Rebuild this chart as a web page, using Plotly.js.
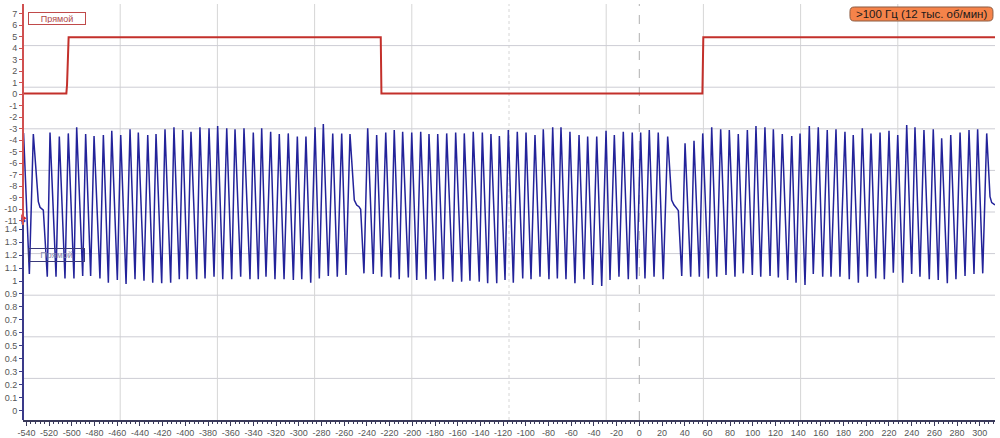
<!DOCTYPE html>
<html>
<head>
<meta charset="utf-8">
<script src="https://cdn.plot.ly/plotly-3.0.1.min.js"></script>
<style>html,body{margin:0;padding:0;background:#fff;}#chart{width:1000px;height:438px;}</style>
</head>
<body>
<div id="chart"></div>
<script>
// ---- Red channel (upper scale) ----
const redT = [-543, -504.8, -504.2, -502.8, -227.8, -227.2, 55.6, 56.4, 313.4];
const redV = [0.05, 0.05, 0.8, 4.93, 4.93, 0.05, 0.05, 4.93, 4.93];

// ---- Blue channel (lower scale), peaks / troughs ----
const blueT1 = [-542.5,-537.4,-533.9,-529.5,-528.0,-526.5,-525.1,-521.6,-519.2,-513.9,-511.0,-506.0,-503.1,-498.1,-495.7,-490.4,-487.8,-483.4,-480.4,-475.2,-472.2,-467.8,-464.8,-459.9,-456.9,-452.2,-448.7,-444.3,-441.4,-436.4,-433.1,-428.7,-425.8,-420.8,-417.9,-412.9,-410.0,-405.3,-402.3,-398.2,-395.0,-390.0,-387.1,-382.6,-379.1,-374.7,-371.5,-367.0,-363.5,-359.1,-356.2,-351.2,-348.3,-343.0,-340.1,-335.7,-332.7];
const blueV1 = [2.14,1.054,2.133,1.612,1.568,1.560,1.547,1.033,2.144,1.033,2.113,1.020,2.138,1.020,2.185,1.038,2.133,1.038,2.118,1.020,2.126,0.987,2.159,1.008,2.126,0.977,2.169,1.013,2.144,1.003,2.126,0.987,2.133,0.982,2.169,0.987,2.185,1.013,2.164,1.013,2.151,1.013,2.185,1.020,2.177,1.033,2.195,1.013,2.177,1.013,2.169,1.033,2.177,1.013,2.144,1.013,2.177];
const blueT2 = [-328.9,-324.8,-321.0,-317.2,-313.0,-309.3,-304.8,-301.3,-297.4,-293.7,-289.5,-285.7,-281.9,-278.4,-274.0,-270.1,-266.1,-262.2,-258.4,-254.9,-251.1,-249.0,-247.0,-245.5,-242.6,-239.3,-234.4,-231.4,-227.0,-223.4,-219.0,-215.9,-211.5,-208.5,-203.5,-200.5,-196.1,-192.6,-187.9,-185.3,-180.0,-177.6,-172.7,-169.7,-164.4,-161.8,-156.5,-154.2,-149.2,-146.3,-141.0,-138.3,-133.6,-130.7,-125.6,-123.3,-118.3,-115.4];
const blueV2 = [1.033,2.151,1.013,2.133,1.013,2.138,1.008,2.113,1.013,2.113,0.987,2.185,1.020,2.210,1.038,2.138,1.033,2.138,1.046,2.133,1.624,1.586,1.573,1.553,1.059,2.177,1.054,2.126,1.033,2.144,1.028,2.164,1.013,2.151,1.028,2.144,1.008,2.151,1.013,2.133,1.003,2.133,1.013,2.138,0.995,2.144,0.995,2.138,1.003,2.151,0.995,2.144,0.982,2.133,0.982,2.118,1.008,2.164];
const blueT3 = [-111.0,-107.5,-102.7,-99.8,-95.4,-91.9,-87.5,-84.6,-79.6,-76.3,-72.2,-69.0,-64.6,-61.1,-56.7,-53.1,-48.7,-45.5,-41.1,-37.5,-33.1,-29.3,-25.8,-22.0,-17.9,-14.1,-9.7,-6.2,-2.3,1.2,5.0,8.8,13.0,16.7,21.1,25.0,28.5,30.6,33.0,34.4,37.4,40.3,45.3,48.2,52.9,55.9,60.8,63.8,68.2,71.7,76.4,79.3,84.3,87.2,91.6,95.2];
const blueV3 = [0.987,2.151,1.020,2.144,1.013,2.126,1.033,2.169,1.013,2.185,1.020,2.185,1.013,2.151,0.982,2.126,1.013,2.113,0.969,2.113,0.961,2.159,1.008,2.126,1.033,2.151,1.013,2.144,1.013,2.144,1.020,2.164,1.033,2.144,1.013,2.113,1.624,1.586,1.560,1.542,1.038,2.061,1.033,2.082,1.033,2.138,1.020,2.185,1.033,2.169,1.046,2.164,1.033,2.133,1.059,2.164];
const blueT4 = [99.6,102.8,107.0,110.7,115.2,118.1,122.5,126.0,130.7,134.3,138.1,141.6,146.0,149.8,153.3,157.7,161.6,165.6,168.9,173.3,176.8,181.2,185.0,188.5,193.0,196.5,200.9,204.1,208.3,212.1,215.9,220.0,223.8,227.7,232.1,235.6,240.0,242.9,247.3,250.8,255.5,259.0,263.4,266.4,271.4,274.4,279.0,282.6,287.0,290.5,294.9,298.1,302.6,306.1,309.0,310.5,313.4];
const blueV4 = [1.046,2.195,1.033,2.185,1.038,2.169,1.028,2.133,1.008,2.118,0.987,2.138,0.969,2.195,1.054,2.185,1.033,2.164,1.033,2.169,1.033,2.151,1.013,2.126,0.987,2.177,1.033,2.138,1.020,2.144,1.013,2.159,1.064,2.126,0.987,2.203,1.054,2.185,1.033,2.164,1.013,2.169,1.008,2.100,0.982,2.126,1.013,2.144,1.038,2.164,1.054,2.169,1.059,2.138,1.650,1.604,1.586];

// ---- channel offset markers on the left axis ----
const markerT = [-543];
const redMarkerV = [-10.8];
const blueMarkerV = [1.463];

// ---- tick labels ----
const redTicks = [7,6,5,4,3,2,1,0,-1,-2,-3,-4,-5,-6,-7,-8,-9,-10,-11];
const blueTicks = [0,0.1,0.2,0.3,0.4,0.5,0.6,0.7,0.8,0.9,1,1.1,1.2,1.3,1.4];
const blueTickText = ['0','0.1','0.2','0.3','0.4','0.5','0.6','0.7','0.8','0.9','1','1.1','1.2','1.3','1.4'];
const xTicks = [-540,-520,-500,-480,-460,-440,-420,-400,-380,-360,-340,-320,-300,-280,-260,-240,-220,-200,-180,-160,-140,-120,-100,-80,-60,-40,-20,0,20,40,60,80,100,120,140,160,180,200,220,240,260,280,300];

// ---- text ----
const legendText = 'Прямой';
const badgeText = '>100 Гц (12 тыс. об/мин)';

const RED = '#c3302b';
const BLUE = '#23239a';
const tickFont = {family: 'Liberation Sans, Arial, sans-serif', size: 9, color: '#555'};

const blueT = blueT1.concat(blueT2, blueT3, blueT4);
const blueV = blueV1.concat(blueV2, blueV3, blueV4);

const traces = [
  {x: blueT, y: blueV, yaxis: 'y2', type: 'scatter', mode: 'lines',
   line: {color: BLUE, width: 1.5}, hoverinfo: 'skip'},
  {x: redT, y: redV, yaxis: 'y', type: 'scatter', mode: 'lines',
   line: {color: RED, width: 2}, hoverinfo: 'skip'},
  {x: markerT, y: redMarkerV, yaxis: 'y', type: 'scatter', mode: 'markers', cliponaxis: false,
   marker: {symbol: 'triangle-right', size: 7, color: '#e02020'}, hoverinfo: 'skip'},
  {x: markerT, y: blueMarkerV, yaxis: 'y2', type: 'scatter', mode: 'markers', cliponaxis: false,
   marker: {symbol: 'triangle-right', size: 6, color: '#2040d0'}, hoverinfo: 'skip'}
];

// grid (10 x 10 divisions)
const shapes = [];
for (let k = 1; k < 10; k++) {
  shapes.push({type: 'line', xref: 'paper', yref: 'paper', x0: 0, x1: 1, y0: k/10, y1: k/10,
    line: {color: '#cdcdd4', width: 1}, layer: 'below'});
  shapes.push({type: 'line', xref: 'paper', yref: 'paper', x0: k/10, x1: k/10, y0: 0, y1: 1,
    line: {color: '#d6d6d6', width: 1, dash: k === 5 ? 'dot' : 'solid'}, layer: 'below'});
}
// zero cursor
shapes.push({type: 'line', xref: 'x', yref: 'paper', x0: 0, x1: 0, y0: 0, y1: 1,
  line: {color: '#b0b0b0', width: 1, dash: 'dash'}, layer: 'below'});
// left axis lines (red upper part, blue lower part)
shapes.push({type: 'line', xref: 'paper', yref: 'paper', x0: 0, x1: 0, y0: 0.469, y1: 1,
  line: {color: '#d05050', width: 2}});
shapes.push({type: 'line', xref: 'paper', yref: 'paper', x0: 0, x1: 0, y0: 0, y1: 0.469,
  line: {color: '#3a3a8a', width: 2}});
// orange rounded badge
(function () {
  const x0 = 0.8508, x1 = 0.9979, y0 = 0.9591, y1 = 0.9928, rx = 0.0045, ry = 0.0105;
  const p = `M ${x0+rx},${y1} L ${x1-rx},${y1} Q ${x1},${y1} ${x1},${y1-ry} L ${x1},${y0+ry} Q ${x1},${y0} ${x1-rx},${y0} L ${x0+rx},${y0} Q ${x0},${y0} ${x0},${y0+ry} L ${x0},${y1-ry} Q ${x0},${y1} ${x0+rx},${y1} Z`;
  shapes.push({type: 'path', xref: 'paper', yref: 'paper', path: p,
    fillcolor: '#f5834a', line: {color: '#8a5a40', width: 1}});
})();

const annotations = [
  {xref: 'paper', yref: 'paper', x: 0.00514, y: 0.9808, xanchor: 'left', yanchor: 'top',
   text: legendText, showarrow: false, width: 54, height: 9, borderpad: 1, borderwidth: 1,
   bordercolor: '#c04a4a', bgcolor: 'rgba(255,255,255,0.9)',
   font: {family: 'Liberation Sans, Arial, sans-serif', size: 9, color: '#b04848'}},
  {xref: 'paper', yref: 'paper', x: 0.00514, y: 0.4135, xanchor: 'left', yanchor: 'top',
   text: legendText, showarrow: false, width: 53, height: 10, borderpad: 1, borderwidth: 1,
   bordercolor: '#3a3a7a', bgcolor: 'rgba(255,255,255,0)',
   font: {family: 'Liberation Sans, Arial, sans-serif', size: 9, color: '#8a8ab0'}},
  {xref: 'paper', yref: 'paper', x: 0.9243, y: 0.976, xanchor: 'center', yanchor: 'middle',
   text: badgeText, showarrow: false,
   font: {family: 'Liberation Sans, Arial, sans-serif', size: 11.5, color: '#1a1a1a'}}
];

const layout = {
  width: 1000, height: 438,
  margin: {l: 23, r: 5, t: 4, b: 18, pad: 0},
  paper_bgcolor: '#ffffff', plot_bgcolor: '#ffffff',
  showlegend: false,
  xaxis: {
    range: [-543, 313.4], tickvals: xTicks, ticktext: xTicks.map(String),
    showgrid: false, zeroline: false, showline: true, linecolor: '#3a3a5a', linewidth: 1.5,
    ticks: 'outside', ticklen: 4, tickcolor: '#3a3a5a', tickfont: tickFont,
    minor: {dtick: 4, tick0: 0, ticks: 'outside', ticklen: 2, tickcolor: '#3a3a5a', showgrid: false}
  },
  yaxis: {
    range: [-28.348, 7.826], tickvals: redTicks, ticktext: redTicks.map(String),
    showgrid: false, zeroline: false, showline: false,
    ticks: 'outside', ticklen: 3, tickcolor: '#d05050', tickfont: tickFont
  },
  yaxis2: {
    range: [-0.0717, 3.1357], overlaying: 'y', side: 'left',
    tickvals: blueTicks, ticktext: blueTickText,
    showgrid: false, zeroline: false, showline: false,
    ticks: 'outside', ticklen: 3, tickcolor: '#3a3a8a', tickfont: tickFont
  },
  shapes: shapes,
  annotations: annotations
};

Plotly.newPlot('chart', traces, layout, {displayModeBar: false, staticPlot: true});
</script>
</body>
</html>
